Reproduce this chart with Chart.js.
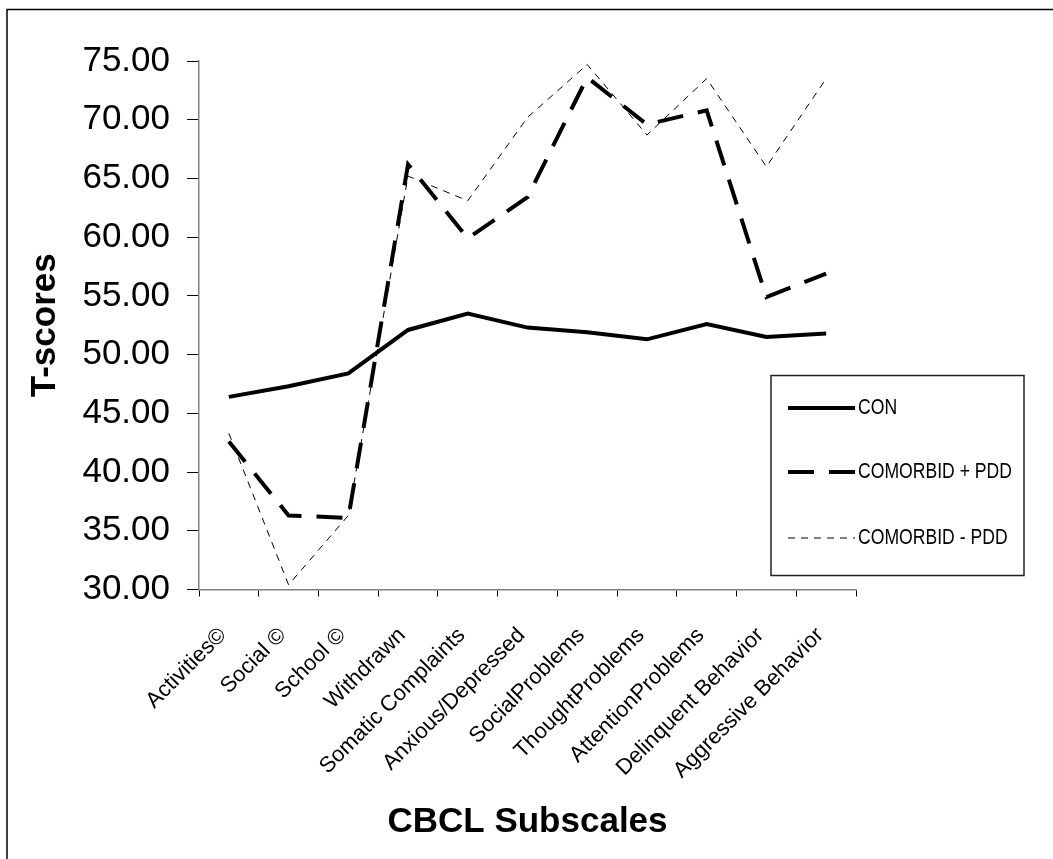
<!DOCTYPE html>
<html>
<head>
<meta charset="utf-8">
<script src="https://cdn.jsdelivr.net/npm/chart.js@4"></script>
<style>
  html, body { margin: 0; padding: 0; background: #fff; }
  canvas { display: block; }
</style>
</head>
<body>
<canvas id="chart" width="1053" height="859"></canvas>
<script>
const subscales = [
  'Activities©', 'Social ©', 'School ©', 'Withdrawn', 'Somatic Complaints',
  'Anxious/Depressed', 'SocialProblems', 'ThoughtProblems', 'AttentionProblems',
  'Delinquent Behavior', 'Aggressive Behavior'
];
const conScores = [46.4, 47.3, 48.4, 52.1, 53.5, 52.3, 51.9, 51.3, 52.6, 51.5, 51.8];
const comorbidPddScores = [42.6, 36.3, 36.1, 66.2, 59.9, 63.4, 73.6, 69.6, 70.8, 54.9, 56.9];
const comorbidNoPddScores = [43.3, 30.4, 36.3, 65.2, 63.1, 70.2, 74.7, 68.7, 73.5, 66.0, 73.5];
const seriesNames = ['CON', 'COMORBID + PDD', 'COMORBID - PDD'];
const yMin = 30, yMax = 75, yStep = 5;

const FONT = 'Arial, "Liberation Sans", sans-serif';

// white page + the frame lines on the left and top edge
const pageFrame = {
  id: 'pageFrame',
  beforeDraw(chart) {
    const { ctx, width, height } = chart;
    ctx.save();
    ctx.fillStyle = '#fff';
    ctx.fillRect(0, 0, width, height);
    ctx.strokeStyle = '#000';
    ctx.lineWidth = 1.5;
    ctx.beginPath();
    ctx.moveTo(7, height);
    ctx.lineTo(7, 9.5);
    ctx.lineTo(width, 9.5);
    ctx.stroke();
    ctx.restore();
  }
};

// boxed legend at the right, drawn from the datasets' own styles
const legendBox = {
  id: 'legendBox',
  afterDatasetsDraw(chart) {
    const ctx = chart.ctx;
    const rows = [408, 472, 538];
    ctx.save();
    ctx.fillStyle = '#fff';
    ctx.strokeStyle = '#222';
    ctx.lineWidth = 1.5;
    ctx.fillRect(771, 375.5, 253, 200);
    ctx.strokeRect(771, 375.5, 253, 200);
    chart.data.datasets.forEach((ds, i) => {
      const y = rows[i];
      ctx.beginPath();
      ctx.setLineDash(ds.borderDash || []);
      ctx.lineWidth = ds.borderWidth;
      ctx.strokeStyle = ds.borderColor;
      ctx.moveTo(788, y);
      ctx.lineTo(855, y);
      ctx.stroke();
      ctx.setLineDash([]);
      ctx.save();
      ctx.translate(858, y);
      ctx.scale(0.8, 1);
      ctx.fillStyle = '#000';
      ctx.font = '22px ' + FONT;
      ctx.textBaseline = 'middle';
      ctx.fillText(ds.label, 0, 0);
      ctx.restore();
    });
    ctx.restore();
  }
};

const ctx = document.getElementById('chart').getContext('2d');
new Chart(ctx, {
  type: 'line',
  data: {
    labels: subscales,
    datasets: [
      {
        label: seriesNames[0],
        data: conScores,
        borderColor: '#000',
        borderWidth: 4,
        pointRadius: 0
      },
      {
        label: seriesNames[1],
        data: comorbidPddScores,
        borderColor: '#000',
        borderWidth: 4,
        borderDash: [26, 15],
        pointRadius: 0
      },
      {
        label: seriesNames[2],
        data: comorbidNoPddScores,
        borderColor: '#000',
        borderWidth: 1,
        borderDash: [7, 6],
        pointRadius: 0
      }
    ]
  },
  options: {
    responsive: false,
    animation: false,
    layout: { padding: { top: 61, right: 197, left: 0, bottom: 0 } },
    plugins: {
      legend: { display: false },
      tooltip: { enabled: false }
    },
    scales: {
      x: {
        offset: true,
        grid: { offset: true, drawOnChartArea: false, tickLength: 7, color: '#000' },
        border: { color: '#808080', width: 1.5 },
        ticks: {
          autoSkip: false,
          maxRotation: 45,
          minRotation: 45,
          padding: 26,
          labelOffset: -6,
          color: '#000',
          font: { family: FONT, size: 22 }
        },
        title: {
          display: true,
          text: 'CBCL Subscales',
          color: '#000',
          font: { family: FONT, size: 35, weight: 'bold' },
          padding: { top: 0, bottom: 16 }
        },
        afterFit(scale) { scale.height = 269.5; }
      },
      y: {
        min: yMin,
        max: yMax,
        grid: { drawOnChartArea: false, tickLength: 12, color: '#000' },
        border: { color: '#808080', width: 1.5 },
        ticks: {
          stepSize: yStep,
          padding: 17,
          color: '#000',
          font: { family: FONT, size: 35 },
          callback: v => v.toFixed(2)
        },
        title: {
          display: true,
          text: 'T-scores',
          color: '#000',
          font: { family: FONT, size: 35, weight: 'bold' },
          padding: { top: 24, bottom: 0 }
        },
        afterFit(scale) { scale.width = 199; }
      }
    }
  },
  plugins: [pageFrame, legendBox]
});
</script>
</body>
</html>
